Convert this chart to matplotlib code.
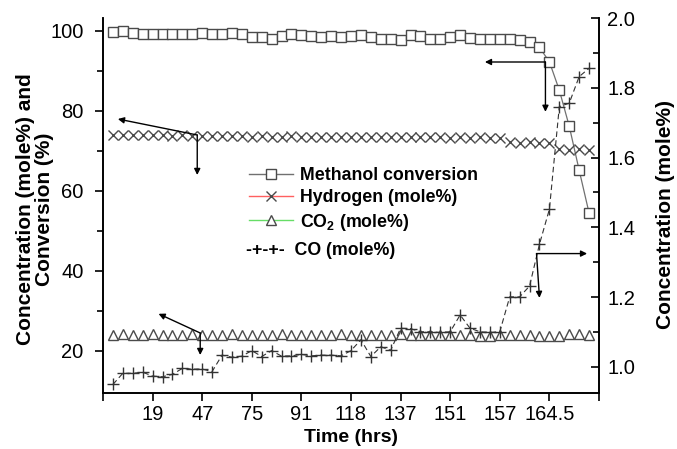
import numpy as np
import matplotlib
matplotlib.use("Agg")
import matplotlib.pyplot as plt
from matplotlib.lines import Line2D

plt.rcParams['font.family'] = ['Liberation Sans', 'DejaVu Sans']
plt.rcParams['mathtext.fontset'] = 'custom'
plt.rcParams['mathtext.bf'] = 'Liberation Sans:bold'
plt.rcParams['mathtext.rm'] = 'Liberation Sans'
plt.rcParams['mathtext.default'] = 'bf'

# ---------------- data ----------------
sample = np.arange(1, 50)  # sample index along time axis

methanol_conv = [99.8, 100.1, 99.4, 99.2, 99.2, 99.3, 99.3, 99.3, 99.3, 99.4,
                 99.3, 99.3, 99.6, 99.3, 98.6, 98.6, 98.1, 98.8, 99.2, 99.0,
                 98.8, 98.6, 98.8, 98.6, 98.7, 99.1, 98.6, 97.9, 97.9, 97.8,
                 98.9, 98.8, 98.1, 97.9, 98.5, 99.1, 98.2, 97.9, 97.9, 97.9,
                 97.9, 97.8, 97.2, 95.9, 92.3, 85.2, 76.2, 65.2, 54.5]

hydrogen = [74.1, 74.0, 74.1, 73.9, 74.0, 73.9, 73.8, 73.9, 73.8, 73.7,
            73.8, 73.7, 73.8, 73.7, 73.6, 73.7, 73.6, 73.6, 73.7, 73.6,
            73.5, 73.6, 73.5, 73.5, 73.5, 73.4, 73.5, 73.4, 73.4, 73.5,
            73.4, 73.4, 73.5, 73.4, 73.3, 73.4, 73.3, 73.4, 73.3, 73.3,
            72.2, 72.1, 72.2, 72.0, 72.1, 70.4, 70.2, 70.4, 70.3]

co2 = [24.1, 24.2, 24.1, 24.1, 24.2, 24.1, 24.1, 24.1, 24.2, 24.1,
       24.1, 24.1, 24.2, 24.1, 24.1, 24.1, 24.1, 24.2, 24.1, 24.1,
       24.1, 24.1, 24.1, 24.2, 24.0, 24.1, 24.0, 24.0, 24.1, 24.2,
       24.1, 24.0, 24.1, 24.0, 24.1, 24.0, 24.1, 23.8, 23.8, 24.1,
       24.0, 24.0, 24.0, 23.8, 23.7, 23.8, 24.2, 24.2, 24.1]

co = [0.950, 0.982, 0.982, 0.985, 0.974, 0.972, 0.979, 0.996, 0.994, 0.994,
      0.987, 1.034, 1.028, 1.031, 1.047, 1.030, 1.047, 1.031, 1.032, 1.036,
      1.032, 1.034, 1.034, 1.032, 1.047, 1.078, 1.030, 1.058, 1.048, 1.111,
      1.110, 1.101, 1.101, 1.099, 1.101, 1.149, 1.111, 1.101, 1.099, 1.101,
      1.201, 1.201, 1.232, 1.352, 1.452, 1.746, 1.756, 1.832, 1.856]

tick_pos = [0, 5, 10, 15, 20, 25, 30, 35, 40, 45, 50]
tick_labels = ['', '19', '47', '75', '91', '118', '137', '151', '157', '164.5', '']

# ---------------- figure ----------------
W, H = 677, 449
fig = plt.figure(figsize=(W / 100, H / 100), dpi=100)
ax = fig.add_axes([103 / W, 1 - 393 / H, (599 - 103) / W, (393 - 18) / H])
ax2 = ax.twinx()

edge = '#4a4a4a'
ax.plot(sample, methanol_conv, color='#707070', lw=0.9, marker='s', ms=7.8,
        mfc='white', mec=edge, mew=1.0)
ax.plot(sample, hydrogen, ls='none', marker='x', ms=7.2, mec=edge, mew=1.0)
ax.plot(sample, co2, ls='none', marker='^', ms=7.2, mfc='white', mec=edge, mew=1.0)
ax2.plot(sample, co, color='#333333', lw=0.8, ls=(0, (5, 3)), marker='+',
         ms=8, mec='#333333', mew=1.0)

# axes limits / ticks
ax.set_xlim(0, 50)
ax.set_ylim(9.5, 103.25)
ax2.set_ylim(0.9255, 2.0)
ax.set_xticks(tick_pos)
ax.set_xticklabels(tick_labels)
ax.set_yticks([20, 40, 60, 80, 100])
ax.set_yticks([30, 50, 70, 90], minor=True)
ax2.set_yticks([1.0, 1.2, 1.4, 1.6, 1.8, 2.0])
ax2.set_yticks([1.1, 1.3, 1.5, 1.7, 1.9], minor=True)
ax2.set_yticklabels(['1.0', '1.2', '1.4', '1.6', '1.8', '2.0'])

for a in (ax, ax2):
    a.spines['top'].set_visible(False)
    for s in a.spines.values():
        s.set_linewidth(1.2)
ax.tick_params(axis='x', direction='out', length=6, width=1.2, labelsize=14.5, pad=3)
ax.tick_params(axis='y', which='major', direction='out', length=6, width=1.2,
               labelsize=14.5, pad=8)
ax.tick_params(axis='y', which='minor', direction='out', length=4, width=1.2)
ax2.tick_params(axis='y', which='major', direction='in', length=6, width=1.2,
                labelsize=14.5, pad=6)
ax2.tick_params(axis='y', which='minor', direction='in', length=4, width=1.2)

ax.set_xlabel('Time (hrs)', fontsize=14, fontweight='bold', labelpad=3)
ax.set_ylabel('Concentration (mole%) and\nConversion (%)', fontsize=15,
              fontweight='bold', va='center', linespacing=1.05)
ax.yaxis.set_label_coords(-0.137, 0.49)
ax2.set_ylabel('Concentration (mole%)', fontsize=15, fontweight='bold',
               va='center', rotation=90)
ax2.yaxis.set_label_coords(1.135, 0.475)

# arrows
ap = dict(arrowstyle='-|>', color='black', lw=1.0, mutation_scale=9, shrinkA=0, shrinkB=0)
ax.annotate('', xy=(1.5, 78.0), xytext=(9.5, 74.0), arrowprops=ap)
ax.annotate('', xy=(9.5, 64.0), xytext=(9.5, 74.0), arrowprops=ap)
ax.annotate('', xy=(38.5, 92.25), xytext=(44.6, 92.25), arrowprops=ap)
ax.annotate('', xy=(44.6, 79.8), xytext=(44.6, 92.25), arrowprops=ap)
ax.annotate('', xy=(5.6, 29.3), xytext=(9.8, 24.5), arrowprops=ap)
ax.annotate('', xy=(9.8, 19.0), xytext=(9.8, 24.5), arrowprops=ap)
ax2.annotate('', xy=(48.8, 1.325), xytext=(43.7, 1.325), arrowprops=ap)
ax2.annotate('', xy=(44.0, 1.198), xytext=(43.7, 1.325), arrowprops=ap)

# legend
handles = [
    Line2D([], [], color='#707070', lw=1.0, marker='s', ms=7.8, mfc='white', mec=edge),
    Line2D([], [], color='#ff6060', lw=1.0, marker='x', ms=7.2, mec=edge),
    Line2D([], [], color='#66dd66', lw=1.0, marker='^', ms=7.2, mfc='white', mec=edge),
]
labels = ['Methanol conversion', 'Hydrogen (mole%)', 'CO$_2$ (mole%)']
ax.legend(handles, labels, loc='upper left', bbox_to_anchor=(0.294, 0.603),
          frameon=False, borderpad=0, borderaxespad=0, handlelength=2.5,
          handletextpad=0.4, labelspacing=0.3, numpoints=1,
          prop={'weight': 'bold', 'size': 12.8})
ax.text(0.288, 0.38, '-+-+-  CO (mole%)', transform=ax.transAxes,
        fontsize=12.8, fontweight='bold', va='center', ha='left')

fig.savefig('out.png', dpi=100)
